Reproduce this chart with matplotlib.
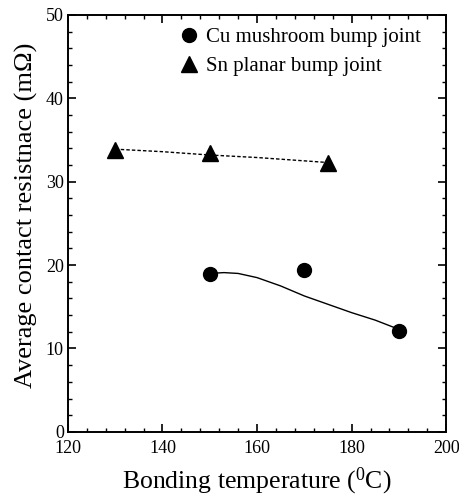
import matplotlib
matplotlib.use("Agg")
import matplotlib.pyplot as plt
from matplotlib.ticker import MultipleLocator

plt.rcParams['font.family'] = ['Liberation Serif', 'DejaVu Serif']
plt.rcParams['mathtext.fontset'] = 'custom'
plt.rcParams['mathtext.rm'] = 'Liberation Serif'

# measured points
cu_temp = [150, 170, 190]
cu_res = [18.9, 19.4, 12.1]
sn_temp = [130, 150, 175]
sn_res = [33.8, 33.4, 32.3]

# fitted curve
cu_fit_temp = [150, 153, 156, 160, 165, 170, 175, 180, 185, 190]
cu_fit_res = [19.0, 19.1, 19.0, 18.5, 17.5, 16.3, 15.3, 14.3, 13.4, 12.3]
sn_fit_temp = [130, 140, 150, 160, 175]
sn_fit_res = [33.9, 33.6, 33.2, 32.9, 32.3]

fig = plt.figure(figsize=(4.59, 4.97), dpi=100)
ax = fig.add_axes([0.148, 0.131, 0.824, 0.839])

ax.plot(cu_fit_temp, cu_fit_res, '-', color='black', lw=1.0)
ax.plot(sn_fit_temp, sn_fit_res, '--', color='black', lw=1.0, dashes=(2.5, 1.5))
ax.plot(cu_temp, cu_res, 'o', color='black', ms=10, ls='none', label='Cu mushroom bump joint')
ax.plot(sn_temp, sn_res, '^', color='black', ms=11, ls='none', label='Sn planar bump joint')

ax.set_xlim(120, 200)
ax.set_ylim(0, 50)
ax.xaxis.set_major_locator(MultipleLocator(20))
ax.xaxis.set_minor_locator(MultipleLocator(4))
ax.yaxis.set_major_locator(MultipleLocator(10))
ax.yaxis.set_minor_locator(MultipleLocator(2))
ax.tick_params(which='both', direction='in', top=True, right=True, labelsize=13)
ax.tick_params(axis='x', which='major', pad=6)
ax.tick_params(axis='y', which='major', pad=3)
ax.tick_params(which='major', length=6, width=1.2)
ax.tick_params(which='minor', length=3, width=1.0)
for s in ax.spines.values():
    s.set_linewidth(1.4)

ax.set_xlabel(r'Bonding temperature ($\mathregular{^0}$C)', fontsize=18.5, labelpad=6)
ax.set_ylabel('Average contact resistnace (m\u03a9)', fontsize=19)
ax.yaxis.set_label_coords(-0.08, 0.52)

ax.legend(loc='upper left', bbox_to_anchor=(0.26, 1.0), frameon=False, fontsize=15,
          handletextpad=0.3, borderaxespad=0.2, labelspacing=0.45, handlelength=1.0)

fig.savefig('out.png', dpi=100)
